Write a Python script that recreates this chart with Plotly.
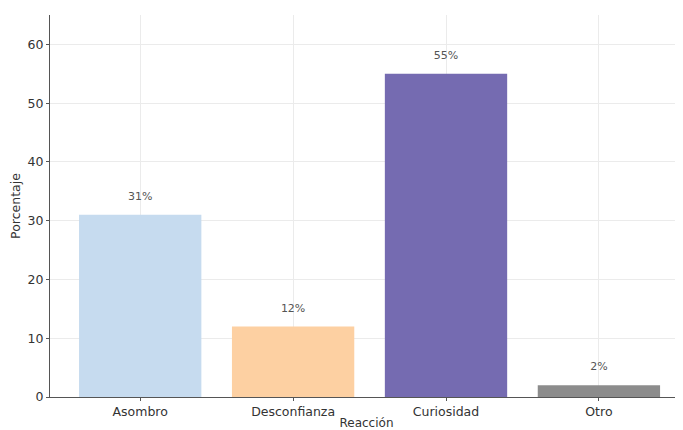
import plotly.graph_objects as go

categories = ["Asombro", "Desconfianza", "Curiosidad", "Otro"]
values = [31, 12, 55, 2]
labels = ["31%", "12%", "55%", "2%"]
colors = ["#c6dbef", "#fdd0a2", "#756bb1", "#8c8c8c"]

fig = go.Figure()
fig.add_trace(go.Bar(
    x=list(range(len(categories))), y=values, width=0.8,
    marker=dict(color=colors, line=dict(width=0)),
    showlegend=False,
))
fig.add_trace(go.Scatter(
    x=list(range(len(categories))), y=[v + 3 for v in values],
    text=labels, mode="text", textposition="middle center",
    textfont=dict(size=11, color="#555555", family="DejaVu Sans"),
    showlegend=False, hoverinfo="skip",
))
fig.update_layout(
    width=675, height=422,
    margin=dict(l=42, r=0, t=7, b=33),
    plot_bgcolor="white", paper_bgcolor="white",
    font=dict(family="DejaVu Sans", color="#333333", size=12.5),
    bargap=0.2,
)
fig.update_xaxes(
    range=[-0.59, 3.55], tickmode="array", tickvals=list(range(len(categories))),
    ticktext=categories, showgrid=True, gridcolor="#ebebeb", gridwidth=1,
    showline=True, linecolor="#555555", linewidth=1.2,
    ticks="outside", ticklen=3, tickcolor="#555555",
    title=dict(text="Reacción", font=dict(size=12), standoff=1),
    zeroline=False,
)
fig.update_yaxes(
    range=[0, 65], tickvals=[0, 10, 20, 30, 40, 50, 60],
    showgrid=True, gridcolor="#ebebeb", gridwidth=1,
    showline=True, linecolor="#555555", linewidth=1.2,
    ticks="outside", ticklen=3, tickcolor="#555555",
    title=dict(text="Porcentaje", font=dict(size=12.5), standoff=4),
    zeroline=False,
)
fig.write_html("out.html")
